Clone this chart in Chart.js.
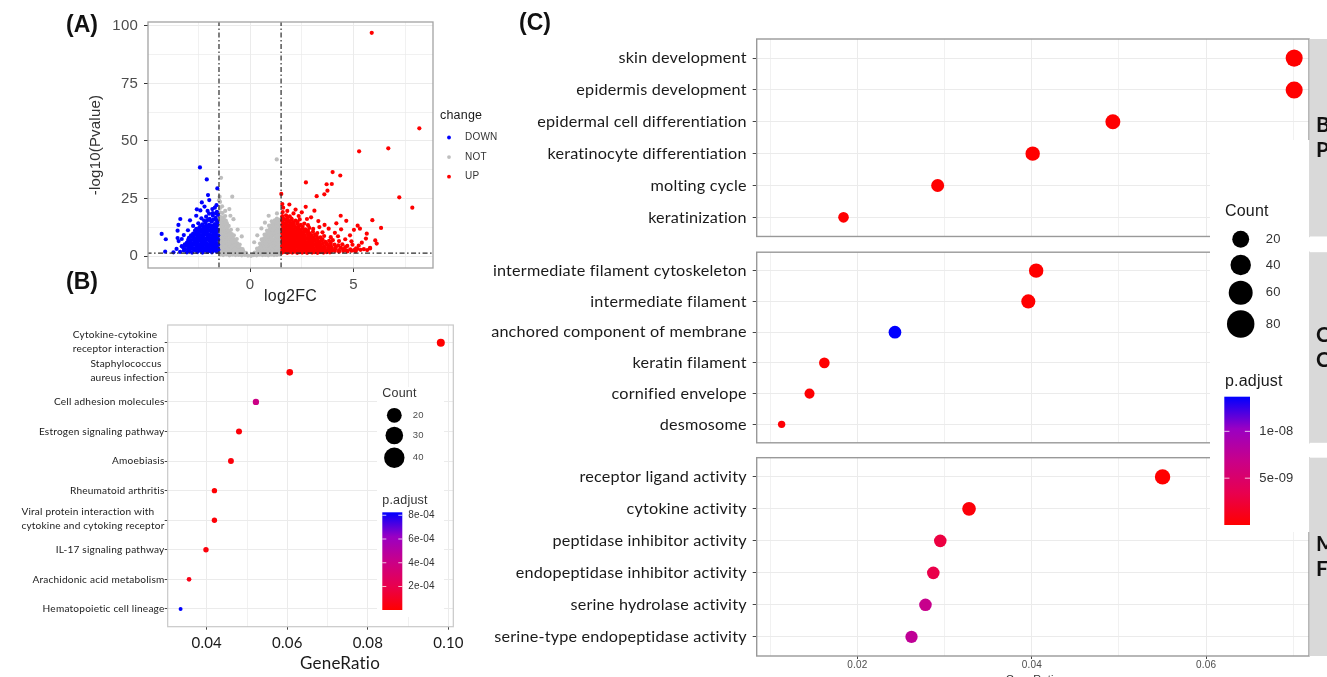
<!DOCTYPE html>
<html>
<head>
<meta charset="utf-8">
<script src="https://cdn.jsdelivr.net/npm/chart.js@4.4.1/dist/chart.umd.min.js"></script>
<style>
  html, body { margin: 0; padding: 0; background: #fff; overflow: hidden; }
  #page { position: relative; width: 1327px; height: 677px; overflow: hidden; background: #fff; }
  #page canvas { position: absolute; }
  .tag { position: absolute; font: bold 23px "Liberation Sans", Arial, sans-serif; line-height: 23px; color: #111; }
</style>
</head>
<body>
<div id="page">
  <canvas id="volcano"></canvas>
  <canvas id="kegg"></canvas>
  <canvas id="goBP"></canvas>
  <canvas id="goCC"></canvas>
  <canvas id="goMF"></canvas>
  <div class="tag" style="left:66px;top:13px">(A)</div>
  <div class="tag" style="left:66px;top:270px">(B)</div>
  <div class="tag" style="left:519px;top:11px">(C)</div>
</div>
<script>
// ---------- (A) volcano plot ----------
const volcanoGroups = ['DOWN', 'NOT', 'UP'];
const fcCut = [-1.5, 1.5];
const pCut = 1.3;
const volcXTicks = [-2.5, 0, 2.5, 5, 7.5];
const volcXLabels = [0, 5];
const volcYTicks = [0, 12.5, 25, 37.5, 50, 62.5, 75, 87.5, 100];
const volcYLabels = [0, 25, 50, 75, 100];

const downPts = [
  [-3.38,1.8],[-3.2,2.4],[-3.05,1.6],[-2.92,2.2],[-2.8,1.5],[-2.66,2.6],[-2.55,1.7],[-2.42,2.3],[-2.3,1.5],[-2.18,2.5],[-2.06,1.8],[-1.95,2.2],[-1.84,1.6],[-1.72,2.4],[-1.6,1.9],
  [-3.15,3.0],[-3.0,2.8],[-2.86,3.1],[-2.73,2.9],[-2.6,3.2],[-2.47,2.9],[-2.35,3.1],[-2.23,2.8],[-2.11,3.2],[-1.99,2.9],[-1.87,3.1],[-1.75,2.8],[-1.63,3.2],[-1.53,2.7],
  [-3.25,3.9],[-3.1,4.4],[-2.98,3.6],[-2.85,4.2],[-2.72,3.5],[-2.6,4.5],[-2.48,3.8],[-2.36,4.3],[-2.24,3.6],[-2.12,4.4],[-2.0,3.9],[-1.88,4.5],[-1.76,3.7],[-1.64,4.2],[-1.56,3.4],
  [-3.15,5.1],[-2.99,4.9],[-2.86,5.2],[-2.74,4.9],[-2.62,5.1],[-2.5,5.0],[-2.38,5.2],[-2.26,4.9],[-2.14,5.1],[-2.02,4.8],[-1.9,5.2],[-1.78,5.0],[-1.66,5.1],[-1.54,4.9],
  [-3.05,5.8],[-2.93,6.4],[-2.8,5.6],[-2.68,6.2],[-2.56,5.7],[-2.44,6.6],[-2.32,5.9],[-2.2,6.3],[-2.08,5.5],[-1.96,6.5],[-1.84,5.8],[-1.72,6.4],[-1.6,5.6],
  [-2.99,7.0],[-2.86,6.9],[-2.74,7.2],[-2.62,6.9],[-2.5,7.1],[-2.38,7.0],[-2.26,7.2],[-2.14,6.9],[-2.02,7.1],[-1.9,6.9],[-1.78,7.2],[-1.66,7.0],[-1.54,7.1],
  [-2.95,7.9],[-2.8,8.3],[-2.66,7.6],[-2.54,8.5],[-2.4,7.8],[-2.28,8.4],[-2.16,7.5],[-2.04,8.2],[-1.92,7.7],[-1.8,8.6],[-1.68,7.9],[-1.57,8.3],
  [-2.85,9.0],[-2.72,8.9],[-2.6,9.2],[-2.48,9.0],[-2.36,9.1],[-2.24,8.9],[-2.12,9.2],[-2.0,9.0],[-1.88,9.1],[-1.76,8.9],[-1.64,9.2],[-1.54,9.0],
  [-2.75,9.8],[-2.6,10.4],[-2.47,9.6],[-2.35,10.5],[-2.22,9.9],[-2.1,10.3],[-1.98,9.5],[-1.86,10.6],[-1.74,9.8],[-1.62,10.4],
  [-2.66,11.0],[-2.54,10.9],[-2.42,11.2],[-2.3,10.9],[-2.18,11.1],[-2.06,10.9],[-1.94,11.2],[-1.82,11.0],[-1.7,11.1],[-1.58,10.9],
  [-2.6,11.8],[-2.45,12.4],[-2.3,11.6],[-2.18,12.2],[-2.05,11.9],[-1.9,12.5],[-1.78,11.7],[-1.65,12.3],[-1.56,11.5],
  [-2.4,13.0],[-2.26,12.9],[-2.12,13.2],[-1.98,12.9],[-1.84,13.1],[-1.72,12.9],[-1.6,13.2],
  [-2.5,14.2],[-2.3,13.8],[-2.15,14.6],[-1.98,13.7],[-1.85,14.9],[-1.7,13.9],[-1.58,14.5],
  [-2.22,15.4],[-2.06,15.6],[-1.9,15.5],[-1.76,15.8],[-1.62,15.6],
  [-2.35,16.4],[-2.12,17.1],[-1.95,16.2],[-1.8,17.6],[-1.66,16.6],[-1.55,17.9],
  [-1.98,18.4],[-1.8,18.7],[-1.65,18.5],
  [-2.05,19.6],[-1.82,20.4],[-1.6,19.2],[-1.62,22.1],[-1.7,21.0],
  [-3.55,3.1],[-3.7,1.6],[-3.45,6.5],[-3.3,7.4],[-3.2,9.1],[-3.5,11.0],[-3.0,11.2],[-2.75,13.1],[-2.9,15.5],[-2.6,17.5],[-2.4,19.8],[-2.2,21.5],
  [-2.42,38.5],[-2.09,33.3],[-1.58,29.4],[-2.03,26.5],[-2.33,23.3],[-1.97,24.3],[-2.57,20.3],[-3.37,16.1],[-3.46,13.5],
  [-4.27,9.6],[-4.07,7.3],[-4.1,1.9],[-3.3,4.3],[-3.5,7.8]
];

const notPts = [
  [-1.45,0.6],[-1.3,0.4],[-1.15,0.7],[-1.0,0.3],[-0.85,0.6],[-0.7,0.4],[-0.55,0.5],[-0.4,0.3],[-0.25,0.5],[-0.1,0.2],[0.05,0.1],[0.18,0.4],[0.32,0.3],[0.46,0.6],[0.6,0.4],[0.74,0.5],[0.88,0.3],[1.02,0.6],[1.16,0.4],[1.3,0.5],[1.44,0.7],
  [-1.38,1.2],[-1.22,1.0],[-1.08,1.3],[-0.94,1.1],[-0.8,1.2],[-0.66,0.9],[-0.52,1.1],[-0.38,0.9],[-0.24,1.0],[0.26,0.9],[0.4,1.1],[0.54,1.0],[0.68,1.3],[0.82,1.1],[0.96,1.2],[1.1,1.0],[1.24,1.3],[1.38,1.1],
  [-1.44,2.1],[-1.3,1.8],[-1.16,2.3],[-1.02,1.9],[-0.88,2.2],[-0.74,1.7],[-0.6,2.0],[-0.46,1.6],[-0.32,1.9],[-0.2,1.4],[0.22,1.5],[0.36,2.0],[0.5,1.8],[0.64,2.3],[0.78,1.9],[0.92,2.2],[1.06,1.7],[1.2,2.1],[1.34,1.8],[1.46,2.3],
  [-1.38,2.9],[-1.24,3.1],[-1.1,2.8],[-0.96,3.0],[-0.82,2.7],[-0.68,2.9],[-0.54,2.6],[-0.42,2.5],[0.42,2.7],[0.56,2.9],[0.7,2.8],[0.84,3.0],[0.98,2.7],[1.12,3.0],[1.26,2.8],[1.4,3.1],
  [-1.46,3.8],[-1.32,3.5],[-1.18,4.0],[-1.04,3.6],[-0.9,3.9],[-0.76,3.4],[-0.62,3.7],[-0.48,3.3],[-0.36,3.0],[0.34,3.2],[0.46,3.6],[0.6,3.9],[0.74,3.4],[0.88,3.8],[1.02,3.5],[1.16,4.0],[1.3,3.6],[1.44,3.9],
  [-1.38,4.7],[-1.24,4.5],[-1.1,4.8],[-0.96,4.6],[-0.82,4.4],[-0.68,4.5],[-0.56,4.2],[0.52,4.5],[0.66,4.7],[0.8,4.5],[0.94,4.8],[1.08,4.6],[1.22,4.9],[1.36,4.6],
  [-1.45,5.6],[-1.3,5.3],[-1.16,5.8],[-1.02,5.4],[-0.88,5.7],[-0.74,5.2],[-0.62,5.5],[-0.5,5.0],[0.48,5.4],[0.6,5.8],[0.74,5.3],[0.88,5.7],[1.02,5.4],[1.16,5.9],[1.3,5.5],[1.45,5.8],
  [-1.38,6.6],[-1.24,6.4],[-1.1,6.7],[-0.96,6.5],[-0.82,6.3],[-0.7,6.2],[0.62,6.5],[0.76,6.6],[0.9,6.4],[1.04,6.7],[1.18,6.5],[1.32,6.8],[1.44,6.6],
  [-1.44,7.5],[-1.3,7.2],[-1.16,7.7],[-1.02,7.3],[-0.88,7.6],[-0.75,7.1],[-0.64,7.4],[0.56,7.2],[0.68,7.7],[0.82,7.3],[0.96,7.6],[1.1,7.2],[1.24,7.7],[1.38,7.4],[1.47,7.9],
  [-1.38,8.5],[-1.24,8.3],[-1.1,8.6],[-0.96,8.4],[-0.84,8.2],[0.76,8.4],[0.9,8.6],[1.04,8.3],[1.18,8.7],[1.32,8.5],[1.45,8.8],
  [-1.45,9.4],[-1.3,9.1],[-1.16,9.6],[-1.02,9.2],[-0.88,9.5],[-0.78,9.0],[0.7,9.3],[0.82,9.7],[0.96,9.2],[1.1,9.6],[1.24,9.3],[1.38,9.8],
  [-1.38,10.4],[-1.24,10.2],[-1.1,10.5],[-0.98,10.1],[0.88,10.3],[1.02,10.5],[1.16,10.2],[1.3,10.6],[1.44,10.4],
  [-1.44,11.3],[-1.3,11.0],[-1.16,11.5],[-1.02,11.1],[-0.92,11.4],[0.82,11.1],[0.96,11.5],[1.1,11.2],[1.24,11.6],[1.38,11.3],[1.47,11.8],
  [-1.38,12.3],[-1.24,12.1],[-1.1,12.4],[0.98,12.3],[1.12,12.5],[1.26,12.2],[1.4,12.6],
  [-1.45,13.3],[-1.3,13.0],[-1.16,13.5],[-1.03,13.1],[0.92,13.2],[1.06,13.6],[1.2,13.3],[1.34,13.7],[1.46,13.4],
  [-1.38,14.2],[-1.24,14.0],[-1.12,14.3],[1.12,14.2],[1.28,14.4],[1.42,14.6],
  [-1.44,15.2],[-1.3,14.9],[-1.17,15.4],[1.05,15.1],[1.2,15.5],[1.36,15.2],[1.46,15.8],
  [-1.38,16.1],[-1.26,15.9],[1.3,16.3],
  [-1.45,17.1],[-1.32,16.8],[-1.2,17.4],[-1.45,19.0],[-1.33,18.7],[-1.45,20.9],[-1.35,21.6],[-1.45,23.5],[-1.47,25.8],[-1.5,24.2],
  [-0.95,17.5],[-0.8,16.0],[-0.6,11.5],[-0.4,8.5],[0.2,6.0],[0.35,9.0],[0.55,12.0],[0.72,14.5],[0.9,17.5],[1.3,18.5],[-1.2,19.6],[-1.0,20.4],
  [-0.86,25.8],[-1.4,34.0],[1.29,42.0]
];

const upPts = [
  [1.55,1.5],[1.68,1.8],[1.8,1.4],[1.92,1.7],[2.04,1.5],[2.16,1.9],[2.28,1.4],[2.4,1.7],[2.52,1.5],[2.64,1.8],[2.76,1.4],[2.88,1.9],[3.0,1.5],[3.12,1.7],[3.26,1.4],[3.4,1.8],[3.55,1.5],[3.7,1.7],[3.86,1.6],
  [1.6,2.1],[1.74,2.3],[1.86,2.0],[1.98,2.2],[2.1,2.0],[2.22,2.3],[2.34,2.1],[2.46,2.2],[2.58,2.0],[2.7,2.3],[2.82,2.1],[2.94,2.2],[3.06,2.0],[3.18,2.3],[3.32,2.1],[3.46,2.2],[3.6,2.0],[3.76,2.3],[3.92,2.1],[4.1,2.2],[4.3,1.9],[4.5,2.2],[4.7,2.0],[4.9,2.3],[5.1,2.1],
  [1.56,2.6],[1.68,3.0],[1.8,2.5],[1.92,2.9],[2.04,2.6],[2.16,3.1],[2.28,2.5],[2.4,2.8],[2.52,3.2],[2.64,2.6],[2.76,3.0],[2.88,2.5],[3.0,2.9],[3.12,2.6],[3.25,3.1],[3.38,2.7],[3.52,3.0],[3.66,2.6],[3.8,3.1],[3.96,2.8],[4.12,3.2],[4.3,2.6],[4.5,3.0],[4.66,2.5],[4.84,2.9],[5.02,2.6],[5.18,3.1],[5.34,2.7],[5.5,3.0],[5.66,2.6],[5.8,3.3],
  [1.6,3.7],[1.74,3.9],[1.86,3.6],[1.98,3.8],[2.1,3.6],[2.22,3.9],[2.34,3.7],[2.46,3.8],[2.58,3.6],[2.7,3.9],[2.82,3.7],[2.94,3.8],[3.06,3.6],[3.2,3.9],[3.34,3.7],[3.48,3.8],[3.62,3.6],[3.78,3.9],[3.95,3.7],[4.15,3.9],[4.38,3.7],[4.6,3.9],
  [1.55,4.4],[1.68,4.8],[1.8,4.3],[1.92,4.7],[2.04,4.4],[2.16,4.9],[2.28,4.3],[2.4,4.7],[2.52,4.4],[2.64,4.9],[2.76,4.3],[2.88,4.8],[3.0,4.4],[3.14,4.9],[3.28,4.4],[3.42,4.8],[3.58,4.3],[3.74,4.9],[3.9,4.5],[4.08,5.0],[4.26,4.6],[4.46,5.1],[4.7,4.4],[4.95,4.9],[5.25,4.5],
  [1.6,5.4],[1.74,5.6],[1.86,5.3],[1.98,5.5],[2.1,5.3],[2.22,5.6],[2.34,5.4],[2.46,5.5],[2.58,5.3],[2.7,5.6],[2.82,5.4],[2.94,5.5],[3.08,5.3],[3.22,5.6],[3.36,5.4],[3.52,5.6],[3.7,5.4],[3.9,5.7],
  [1.56,6.2],[1.68,6.6],[1.8,6.1],[1.92,6.5],[2.04,6.2],[2.16,6.7],[2.28,6.1],[2.4,6.5],[2.52,6.2],[2.64,6.6],[2.76,6.1],[2.88,6.6],[3.0,6.2],[3.14,6.7],[3.3,6.3],[3.46,6.8],[3.64,6.2],[3.82,6.6],[4.0,6.9],[4.3,6.5],
  [1.6,7.2],[1.74,7.4],[1.86,7.1],[1.98,7.3],[2.1,7.1],[2.22,7.4],[2.34,7.2],[2.46,7.3],[2.58,7.1],[2.7,7.4],[2.84,7.2],[2.98,7.4],[3.12,7.2],[3.28,7.5],[3.5,7.3],
  [1.55,8.0],[1.68,8.4],[1.8,7.9],[1.92,8.3],[2.04,8.0],[2.16,8.5],[2.28,7.9],[2.4,8.3],[2.52,8.0],[2.64,8.5],[2.78,7.9],[2.92,8.4],[3.06,8.0],[3.22,8.6],[3.4,8.1],[3.58,8.7],[3.9,8.2],
  [1.6,9.0],[1.74,9.2],[1.86,8.9],[1.98,9.1],[2.1,8.9],[2.22,9.2],[2.36,9.0],[2.5,9.1],[2.64,8.9],[2.8,9.2],[2.96,9.0],[3.14,9.3],
  [1.56,9.8],[1.68,10.2],[1.8,9.7],[1.92,10.1],[2.04,9.8],[2.16,10.3],[2.3,9.7],[2.44,10.1],[2.58,9.8],[2.72,10.4],[2.88,9.9],[3.04,10.5],[3.25,10.0],[3.5,10.3],
  [1.6,10.8],[1.74,11.0],[1.88,10.7],[2.02,10.9],[2.16,10.7],[2.3,11.0],[2.46,10.8],[2.62,11.0],[2.8,10.9],
  [1.55,11.6],[1.68,12.0],[1.82,11.5],[1.96,11.9],[2.1,11.6],[2.24,12.1],[2.38,11.5],[2.52,11.9],[2.68,11.6],[2.86,12.2],[3.05,11.8],
  [1.6,12.7],[1.76,12.9],[1.9,12.6],[2.04,12.8],[2.2,12.6],[2.36,12.9],[2.54,12.7],
  [1.56,13.5],[1.7,13.9],[1.84,13.4],[1.98,13.8],[2.12,13.5],[2.28,14.0],[2.45,13.6],[2.62,14.1],[2.8,13.4],
  [1.6,14.5],[1.78,14.7],[1.94,14.4],[2.1,14.6],[2.3,14.8],
  [1.55,15.4],[1.7,15.8],[1.86,15.3],[2.02,15.7],[2.2,15.4],[2.4,15.9],
  [1.6,16.4],[1.8,16.6],[2.0,16.3],
  [1.56,17.3],[1.74,17.7],[1.92,17.2],[1.58,19.1],[1.8,19.6],[1.6,21.0],[2.1,18.5],[2.35,17.4],
  [1.9,22.4],[2.2,20.2],[2.5,19.0],[2.95,16.8],[3.3,15.2],[3.6,13.5],[3.8,11.9],[4.1,10.1],[4.25,8.6],[4.6,7.3],[4.9,6.4],[5.4,5.8],[5.6,7.6],[3.35,12.6],[2.75,16.1],
  [5.88,97.0],[8.18,55.5],[6.68,46.8],[5.27,45.5],[3.99,36.5],[4.36,35.0],[2.7,32.0],[3.7,31.2],[3.95,31.3],[3.74,28.4],[3.59,26.8],[3.22,26.0],
  [7.21,25.5],[7.84,21.0],[1.51,27.0],[1.56,22.6],[2.69,21.4],[3.11,19.7],[4.38,17.5],[5.91,15.6],[4.65,15.3],[4.17,14.2],[5.2,13.2],
  [6.33,12.2],[4.4,11.6],[5.02,11.4],[5.31,11.9],[4.83,9.0],[5.64,9.7],[6.05,6.8],[6.12,5.4],[5.8,3.6],[5.12,3.3]
];

// ---------- (B) KEGG dot plot ----------
const keggTerms = [
  ['Cytokine-cytokine', 'receptor interaction'],
  ['Staphylococcus', 'aureus infection'],
  ['Cell adhesion molecules'],
  ['Estrogen signaling pathway'],
  ['Amoebiasis'],
  ['Rheumatoid arthritis'],
  ['Viral protein interaction with', 'cytokine and cytoking receptor'],
  ['IL-17 signaling pathway'],
  ['Arachidonic acid metabolism'],
  ['Hematopoietic cell lineage']
];
const keggRatio = [0.0981, 0.0606, 0.0522, 0.0480, 0.0460, 0.0419, 0.0419, 0.0398, 0.0356, 0.0335];
const keggCount = [43, 33, 31, 29, 28, 24, 24, 24, 19, 14];
const keggPadj = [2e-6, 1.5e-5, 4.0e-4, 2.5e-5, 3e-5, 1e-5, 2e-5, 3e-5, 6e-5, 8.25e-4];
const keggXMajor = [0.04, 0.06, 0.08, 0.10];
const keggXMinor = [0.05, 0.07, 0.09];
const keggCountBreaks = [20, 30, 40];
const keggPadjBreaks = [2e-4, 4e-4, 6e-4, 8e-4];

// ---------- (C) GO dot plot, three facets ----------
const bpTerms = ['skin development', 'epidermis development', 'epidermal cell differentiation',
  'keratinocyte differentiation', 'molting cycle', 'keratinization'];
const bpRatio = [0.0701, 0.0701, 0.0493, 0.0401, 0.0292, 0.0184];
const bpCount = [79, 79, 64, 60, 50, 33];
const bpPadj = [1e-12, 1e-12, 5e-11, 2e-11, 3e-11, 8e-11];

const ccTerms = ['intermediate filament cytoskeleton', 'intermediate filament', 'anchored component of membrane',
  'keratin filament', 'cornified envelope', 'desmosome'];
const ccRatio = [0.0405, 0.0396, 0.0243, 0.0162, 0.0145, 0.0113];
const ccCount = [60, 58, 48, 33, 29, 10];
const ccPadj = [2e-11, 3e-11, 1.37e-8, 4e-11, 1e-10, 2e-10];

const mfTerms = ['receptor ligand activity', 'cytokine activity', 'peptidase inhibitor activity',
  'endopeptidase inhibitor activity', 'serine hydrolase activity', 'serine-type endopeptidase activity'];
const mfRatio = [0.0550, 0.0328, 0.0295, 0.0287, 0.0278, 0.0262];
const mfCount = [67, 55, 47, 47, 47, 45];
const mfPadj = [1e-11, 4e-10, 2.8e-9, 3.2e-9, 7e-9, 7.6e-9];

const goFacets = [['Biological', 'Process'], ['Cellular', 'Component'], ['Molecular', 'Function']];
const goXMajor = [0.02, 0.04, 0.06];
const goXMinor = [0.01, 0.03, 0.05, 0.07];
const goCountBreaks = [20, 40, 60, 80];
const goPadjBreaks = [5e-9, 1e-8];

// ---------- helpers ----------
const SANS = '"Liberation Sans", Arial, sans-serif';
const CAL = 'Lato, "Open Sans", sans-serif';
const GRID = '#ebebeb';
const gradStops = ['#ff0000', '#e8004f', '#c90089', '#9a00c3', '#0000ff'];

// keep "ti" etc. as plain letters (Lato has ligatures for them)
Chart.register({
  id: 'noLigatures',
  beforeDraw(chart) {
    chart.ctx.letterSpacing = '0.2px';
    chart.ctx.textRendering = 'optimizeSpeed';
  }
});

function makeCanvas(id, left, top, w, h) {
  const c = document.getElementById(id);
  c.width = w;
  c.height = h;
  c.style.left = left + 'px';
  c.style.top = top + 'px';
  return c.getContext('2d');
}

// fixed axis size so that the plot area lands where the figure has it
function fixSize(px) {
  return function (scale) {
    if (scale.isHorizontal()) scale.height = px; else scale.width = px;
    scale.paddingLeft = scale.paddingRight = scale.paddingTop = scale.paddingBottom = 0;
  };
}

function isIn(list, v) {
  return list.some(m => Math.abs(m - v) < 1e-9);
}

function hexRgb(h) {
  return [1, 3, 5].map(i => parseInt(h.substr(i, 2), 16));
}

function padjColor(v, lo, hi) {
  let t = (v - lo) / (hi - lo);
  t = Math.max(0, Math.min(1, t));
  const seg = Math.min(3, Math.floor(t * 4));
  const f = t * 4 - seg;
  const a = hexRgb(gradStops[seg]), b = hexRgb(gradStops[seg + 1]);
  return 'rgb(' + a.map((c, i) => Math.round(c + (b[i] - c) * f)).join(',') + ')';
}

function sci(v) {
  const parts = v.toExponential(0).split('e');
  const e = parseInt(parts[1], 10);
  return parts[0] + 'e' + (e < 0 ? '-' : '+') + String(Math.abs(e)).padStart(2, '0');
}

function frame(color, width) {
  return {
    id: 'frame',
    afterDatasetsDraw(chart) {
      const a = chart.chartArea, c = chart.ctx;
      c.save();
      c.strokeStyle = color;
      c.lineWidth = width;
      c.strokeRect(a.left, a.top, a.right - a.left, a.bottom - a.top);
      c.restore();
    }
  };
}

function colorBar(c, x, top, w, bottom, lo, hi, breaks, labelX, font) {
  const g = c.createLinearGradient(0, bottom, 0, top);
  gradStops.forEach((s, i) => g.addColorStop(i / 4, s));
  c.fillStyle = g;
  c.fillRect(x, top, w, bottom - top);
  c.font = font;
  c.textAlign = 'left';
  c.textBaseline = 'middle';
  breaks.forEach(v => {
    const y = bottom - (v - lo) / (hi - lo) * (bottom - top);
    c.strokeStyle = 'rgba(255,255,255,0.75)';
    c.lineWidth = 1;
    c.beginPath();
    c.moveTo(x, y); c.lineTo(x + w * 0.2, y);
    c.moveTo(x + w * 0.8, y); c.lineTo(x + w, y);
    c.stroke();
    c.fillStyle = '#333';
    c.fillText(sci(v), labelX, y);
  });
}

// ---------- (A) ----------
const groupColors = ['#0000ff', '#bebebe', '#ff0000'];
const groupPts = [downPts, notPts, upPts];

function cutLine(v, dir) {
  const data = dir === 'v' ? [{x: v, y: -10}, {x: v, y: 120}] : [{x: -10, y: v}, {x: 20, y: v}];
  return {
    data: data, showLine: true, pointRadius: 0, borderColor: '#2b2b2b', borderWidth: 1.2,
    borderDash: [5, 2.5, 1.5, 2.5], order: 0
  };
}

const volcanoLegend = {
  id: 'volcLegend',
  afterDraw(chart) {
    const c = chart.ctx;
    c.save();
    c.textAlign = 'left';
    c.textBaseline = 'middle';
    c.fillStyle = '#1a1a1a';
    c.font = '12.5px ' + SANS;
    c.fillText('change', 440, 116);
    volcanoGroups.forEach((g, i) => {
      const y = 137.5 + i * 19.6;
      c.fillStyle = groupColors[i];
      c.beginPath();
      c.arc(449, y, 1.9, 0, Math.PI * 2);
      c.fill();
      c.fillStyle = '#333';
      c.font = '10px ' + SANS;
      c.fillText(g, 465, y);
    });
    c.restore();
  }
};

const ctxA = makeCanvas('volcano', 0, 0, 520, 310);
new Chart(ctxA, {
  type: 'scatter',
  data: {
    datasets: [
      cutLine(fcCut[0], 'v'), cutLine(fcCut[1], 'v'), cutLine(pCut, 'h')
    ].concat(volcanoGroups.map((g, i) => ({
      label: g,
      data: groupPts[i].map(p => ({x: p[0], y: p[1]})),
      backgroundColor: groupColors[i],
      pointRadius: 2.1,
      borderWidth: 0,
      order: i === 1 ? 3 : 2
    })))
  },
  options: {
    responsive: false,
    animation: false,
    events: [],
    layout: {padding: {left: 0, top: 22, right: 520 - 433, bottom: 0}},
    plugins: {legend: {display: false}, tooltip: {enabled: false}},
    scales: {
      x: {
        type: 'linear', min: -4.93, max: 8.84,
        afterBuildTicks: s => { s.ticks = volcXTicks.map(v => ({value: v})); },
        afterFit: fixSize(310 - 268),
        border: {display: false},
        grid: {
          color: GRID,
          lineWidth: c => isIn(volcXLabels, c.tick.value) ? 1 : 0.7,
          tickLength: 4,
          tickColor: c => isIn(volcXLabels, c.tick.value) ? '#333' : 'rgba(0,0,0,0)'
        },
        ticks: {
          padding: 4, color: '#4d4d4d', font: {family: SANS, size: 15}, maxRotation: 0, autoSkip: false,
          callback: v => isIn(volcXLabels, v) ? String(v) : ''
        },
        title: {display: true, text: 'log2FC', color: '#222', font: {family: SANS, size: 16}, padding: {top: 0, bottom: 3.4}}
      },
      y: {
        type: 'linear', min: -5.2, max: 101.7,
        afterBuildTicks: s => { s.ticks = volcYTicks.map(v => ({value: v})); },
        afterFit: fixSize(148),
        border: {display: false},
        grid: {
          color: GRID,
          lineWidth: c => isIn(volcYLabels, c.tick.value) ? 1 : 0.7,
          tickLength: 4,
          tickColor: c => isIn(volcYLabels, c.tick.value) ? '#333' : 'rgba(0,0,0,0)'
        },
        ticks: {
          padding: 6, color: '#4d4d4d', font: {family: SANS, size: 15}, autoSkip: false,
          callback: v => isIn(volcYLabels, v) ? String(v) : ''
        },
        title: {display: true, text: '-log10(Pvalue)', color: '#333', font: {family: SANS, size: 15}, padding: {top: 87, bottom: 0}}
      }
    }
  },
  plugins: [frame('#a3a3a3', 1.3), volcanoLegend]
});

// ---------- dot plots ----------
function dotPanel(p) {
  const ctx = makeCanvas(p.id, p.left, p.top, p.width, p.height);
  const a = p.area;
  const n = p.terms.length;
  const xGrid = p.xMajor.concat(p.xMinor);
  return new Chart(ctx, {
    type: 'scatter',
    data: {
      datasets: [{
        data: p.ratio.map((x, i) => ({x: x, y: i})),
        pointRadius: p.count.map(p.size),
        backgroundColor: p.padj.map(v => padjColor(v, p.domain[0], p.domain[1])),
        borderWidth: 0,
        clip: false
      }]
    },
    options: {
      responsive: false,
      animation: false,
      events: [],
      layout: {padding: {left: 0, top: a.t - p.top, right: p.left + p.width - a.r, bottom: 0}},
      plugins: {legend: {display: false}, tooltip: {enabled: false}},
      scales: {
        x: {
          type: 'linear', min: p.xMin, max: p.xMax,
          afterBuildTicks: s => { s.ticks = xGrid.map(v => ({value: v})); },
          afterFit: fixSize(p.top + p.height - a.b),
          border: {display: false},
          grid: {
            color: GRID,
            lineWidth: c => isIn(p.xMajor, c.tick.value) ? 1 : 0.7,
            drawTicks: p.showX,
            tickLength: 3,
            tickColor: c => isIn(p.xMajor, c.tick.value) ? '#444' : 'rgba(0,0,0,0)'
          },
          ticks: {
            display: p.showX, padding: p.xTickPad, color: p.xTickColor, font: p.xTickFont,
            maxRotation: 0, autoSkip: false,
            callback: v => isIn(p.xMajor, v) ? v.toFixed(2) : ''
          },
          title: p.xTitle || {display: false}
        },
        y: {
          type: 'linear', reverse: true, min: -0.6, max: n - 0.4,
          afterBuildTicks: s => { s.ticks = p.terms.map((t, i) => ({value: i})); },
          afterFit: fixSize(a.l - p.left),
          border: {display: false},
          grid: {color: GRID, tickLength: p.yTickLen, tickColor: '#444', tickWidth: 1},
          ticks: {
            display: !p.customY, padding: p.yTickPad, color: '#1a1a1a', font: p.yFont, autoSkip: false,
            callback: v => p.terms[v]
          }
        }
      }
    },
    plugins: p.plugins
  });
}

// ---------- (B) ----------
const keggLo = Math.min(...keggPadj), keggHi = Math.max(...keggPadj);
const keggDecor = {
  id: 'keggDecor',
  afterDraw(chart) {
    const c = chart.ctx, ys = chart.scales.y;
    c.save();
    // wrapped term labels, left aligned inside their block
    c.font = '10.1px ' + CAL;
    c.fillStyle = '#1a1a1a';
    c.textBaseline = 'middle';
    c.textAlign = 'left';
    keggTerms.forEach((lines, i) => {
      const yc = ys.getPixelForValue(i) - (lines.length > 1 ? 1.5 : 0);
      const w = Math.max(...lines.map(s => c.measureText(s).width));
      const x0 = 164.5 - w;
      const off = (lines.length - 1) * 14 / 2;
      lines.forEach((s, k) => c.fillText(s, x0, yc - off + k * 14));
    });
    // x title
    c.textAlign = 'center';
    c.font = '17px ' + CAL;
    c.fillText('GeneRatio', 340, 363.3);
    // legend (page coords, canvas sits at y = 300)
    c.translate(0, -300);
    c.fillStyle = '#fff';
    c.fillRect(377, 387, 67, 230);
    c.textAlign = 'left';
    c.fillStyle = '#333';
    c.font = '12.5px ' + SANS;
    c.fillText('Count', 382.3, 394);
    const rows = [415.3, 435.5, 457.7];
    keggCountBreaks.forEach((v, i) => {
      c.fillStyle = '#000';
      c.beginPath();
      c.arc(394.3, rows[i], 4.6 + 0.14 * v, 0, Math.PI * 2);
      c.fill();
      c.fillStyle = '#4d4d4d';
      c.font = '9.5px ' + SANS;
      c.fillText(String(v), 412.7, rows[i]);
    });
    c.fillStyle = '#333';
    c.font = '12.5px ' + SANS;
    c.fillText('p.adjust', 382.3, 500.7);
    colorBar(c, 382.3, 512.3, 20, 610, keggLo, keggHi, keggPadjBreaks, 408.3, '10px ' + SANS);
    c.restore();
  }
};

dotPanel({
  id: 'kegg', left: 0, top: 300, width: 480, height: 377,
  area: {l: 167.7, t: 325, r: 453.3, b: 626.7},
  terms: keggTerms, ratio: keggRatio, count: keggCount, padj: keggPadj,
  domain: [keggLo, keggHi], size: c => 1 + 0.07 * c,
  xMin: 0.0303, xMax: 0.1012, xMajor: keggXMajor, xMinor: keggXMinor,
  showX: true, xTickPad: 4, xTickColor: '#1a1a1a', xTickFont: {family: CAL, size: 15},
  customY: true, yTickLen: 3, yTickPad: 3, yFont: {family: CAL, size: 10.5},
  plugins: [frame('#c8c8c8', 1.2), keggDecor]
});

// ---------- (C) ----------
const goAll = bpPadj.concat(ccPadj, mfPadj);
const goLo = Math.min(...goAll), goHi = Math.max(...goAll);

function goDecor(facet, pageLeft, pageTop) {
  return {
    id: 'goDecor',
    afterDraw(chart) {
      const c = chart.ctx, a = chart.chartArea;
      c.save();
      c.translate(-pageLeft, -pageTop);
      // legend panel laid over the facets
      c.fillStyle = '#fff';
      c.fillRect(1210, 140, 99.5, 392);
      c.textAlign = 'left';
      c.textBaseline = 'middle';
      c.fillStyle = '#1a1a1a';
      c.font = '16px ' + SANS;
      c.fillText('Count', 1225, 211.7);
      const rows = [239.3, 265, 292.7, 324];
      goCountBreaks.forEach((v, i) => {
        c.fillStyle = '#000';
        c.beginPath();
        c.arc(1240.7, rows[i], 6.7 + 0.088 * v, 0, Math.PI * 2);
        c.fill();
        c.fillStyle = '#333';
        c.font = '13px ' + SANS;
        c.fillText(String(v), 1265.7, rows[i]);
      });
      c.fillStyle = '#1a1a1a';
      c.font = '16px ' + SANS;
      c.fillText('p.adjust', 1225, 381.7);
      colorBar(c, 1224.3, 396.7, 25.7, 525, goLo, goHi, goPadjBreaks, 1259.3, '13px ' + SANS);
      c.restore();
      // facet strip
      c.save();
      c.fillStyle = '#d9d9d9';
      c.fillRect(a.right + 0.5, a.top, chart.width - a.right, a.bottom - a.top);
      c.fillStyle = '#111';
      c.font = 'bold 21px ' + CAL;
      c.textAlign = 'left';
      c.textBaseline = 'middle';
      const mid = (a.top + a.bottom) / 2;
      facet.forEach((s, k) => c.fillText(s, 1316 - pageLeft, mid - 12.5 + k * 25));
      c.restore();
    }
  };
}

const goCommon = {
  domain: [goLo, goHi], size: c => 3 + 0.07 * c,
  xMin: 0.00844, xMax: 0.0718, xMajor: goXMajor, xMinor: goXMinor,
  xTickPad: 0, xTickColor: '#4d4d4d', xTickFont: {family: SANS, size: 10},
  customY: false, yTickLen: 4, yTickPad: 6, yFont: {family: CAL, size: 16.2}
};

dotPanel(Object.assign({}, goCommon, {
  id: 'goBP', left: 480, top: 30, width: 847, height: 215,
  area: {l: 756.7, t: 39, r: 1309, b: 241},
  terms: bpTerms, ratio: bpRatio, count: bpCount, padj: bpPadj, showX: false,
  plugins: [frame('#999', 1.4), goDecor(goFacets[0], 480, 30)]
}));

dotPanel(Object.assign({}, goCommon, {
  id: 'goCC', left: 480, top: 245, width: 847, height: 205,
  area: {l: 756.7, t: 246.7, r: 1309, b: 448.3},
  terms: ccTerms, ratio: ccRatio, count: ccCount, padj: ccPadj, showX: false,
  plugins: [frame('#999', 1.4), goDecor(goFacets[1], 480, 245)]
}));

dotPanel(Object.assign({}, goCommon, {
  id: 'goMF', left: 480, top: 450, width: 847, height: 240,
  area: {l: 756.7, t: 454.3, r: 1309, b: 656},
  terms: mfTerms, ratio: mfRatio, count: mfCount, padj: mfPadj, showX: true,
  xTitle: {display: true, text: 'GeneRatio', color: '#333', font: {family: SANS, size: 11}, padding: {top: 0, bottom: 3.5}},
  plugins: [frame('#999', 1.4), goDecor(goFacets[2], 480, 450)]
}));
</script>
</body>
</html>
